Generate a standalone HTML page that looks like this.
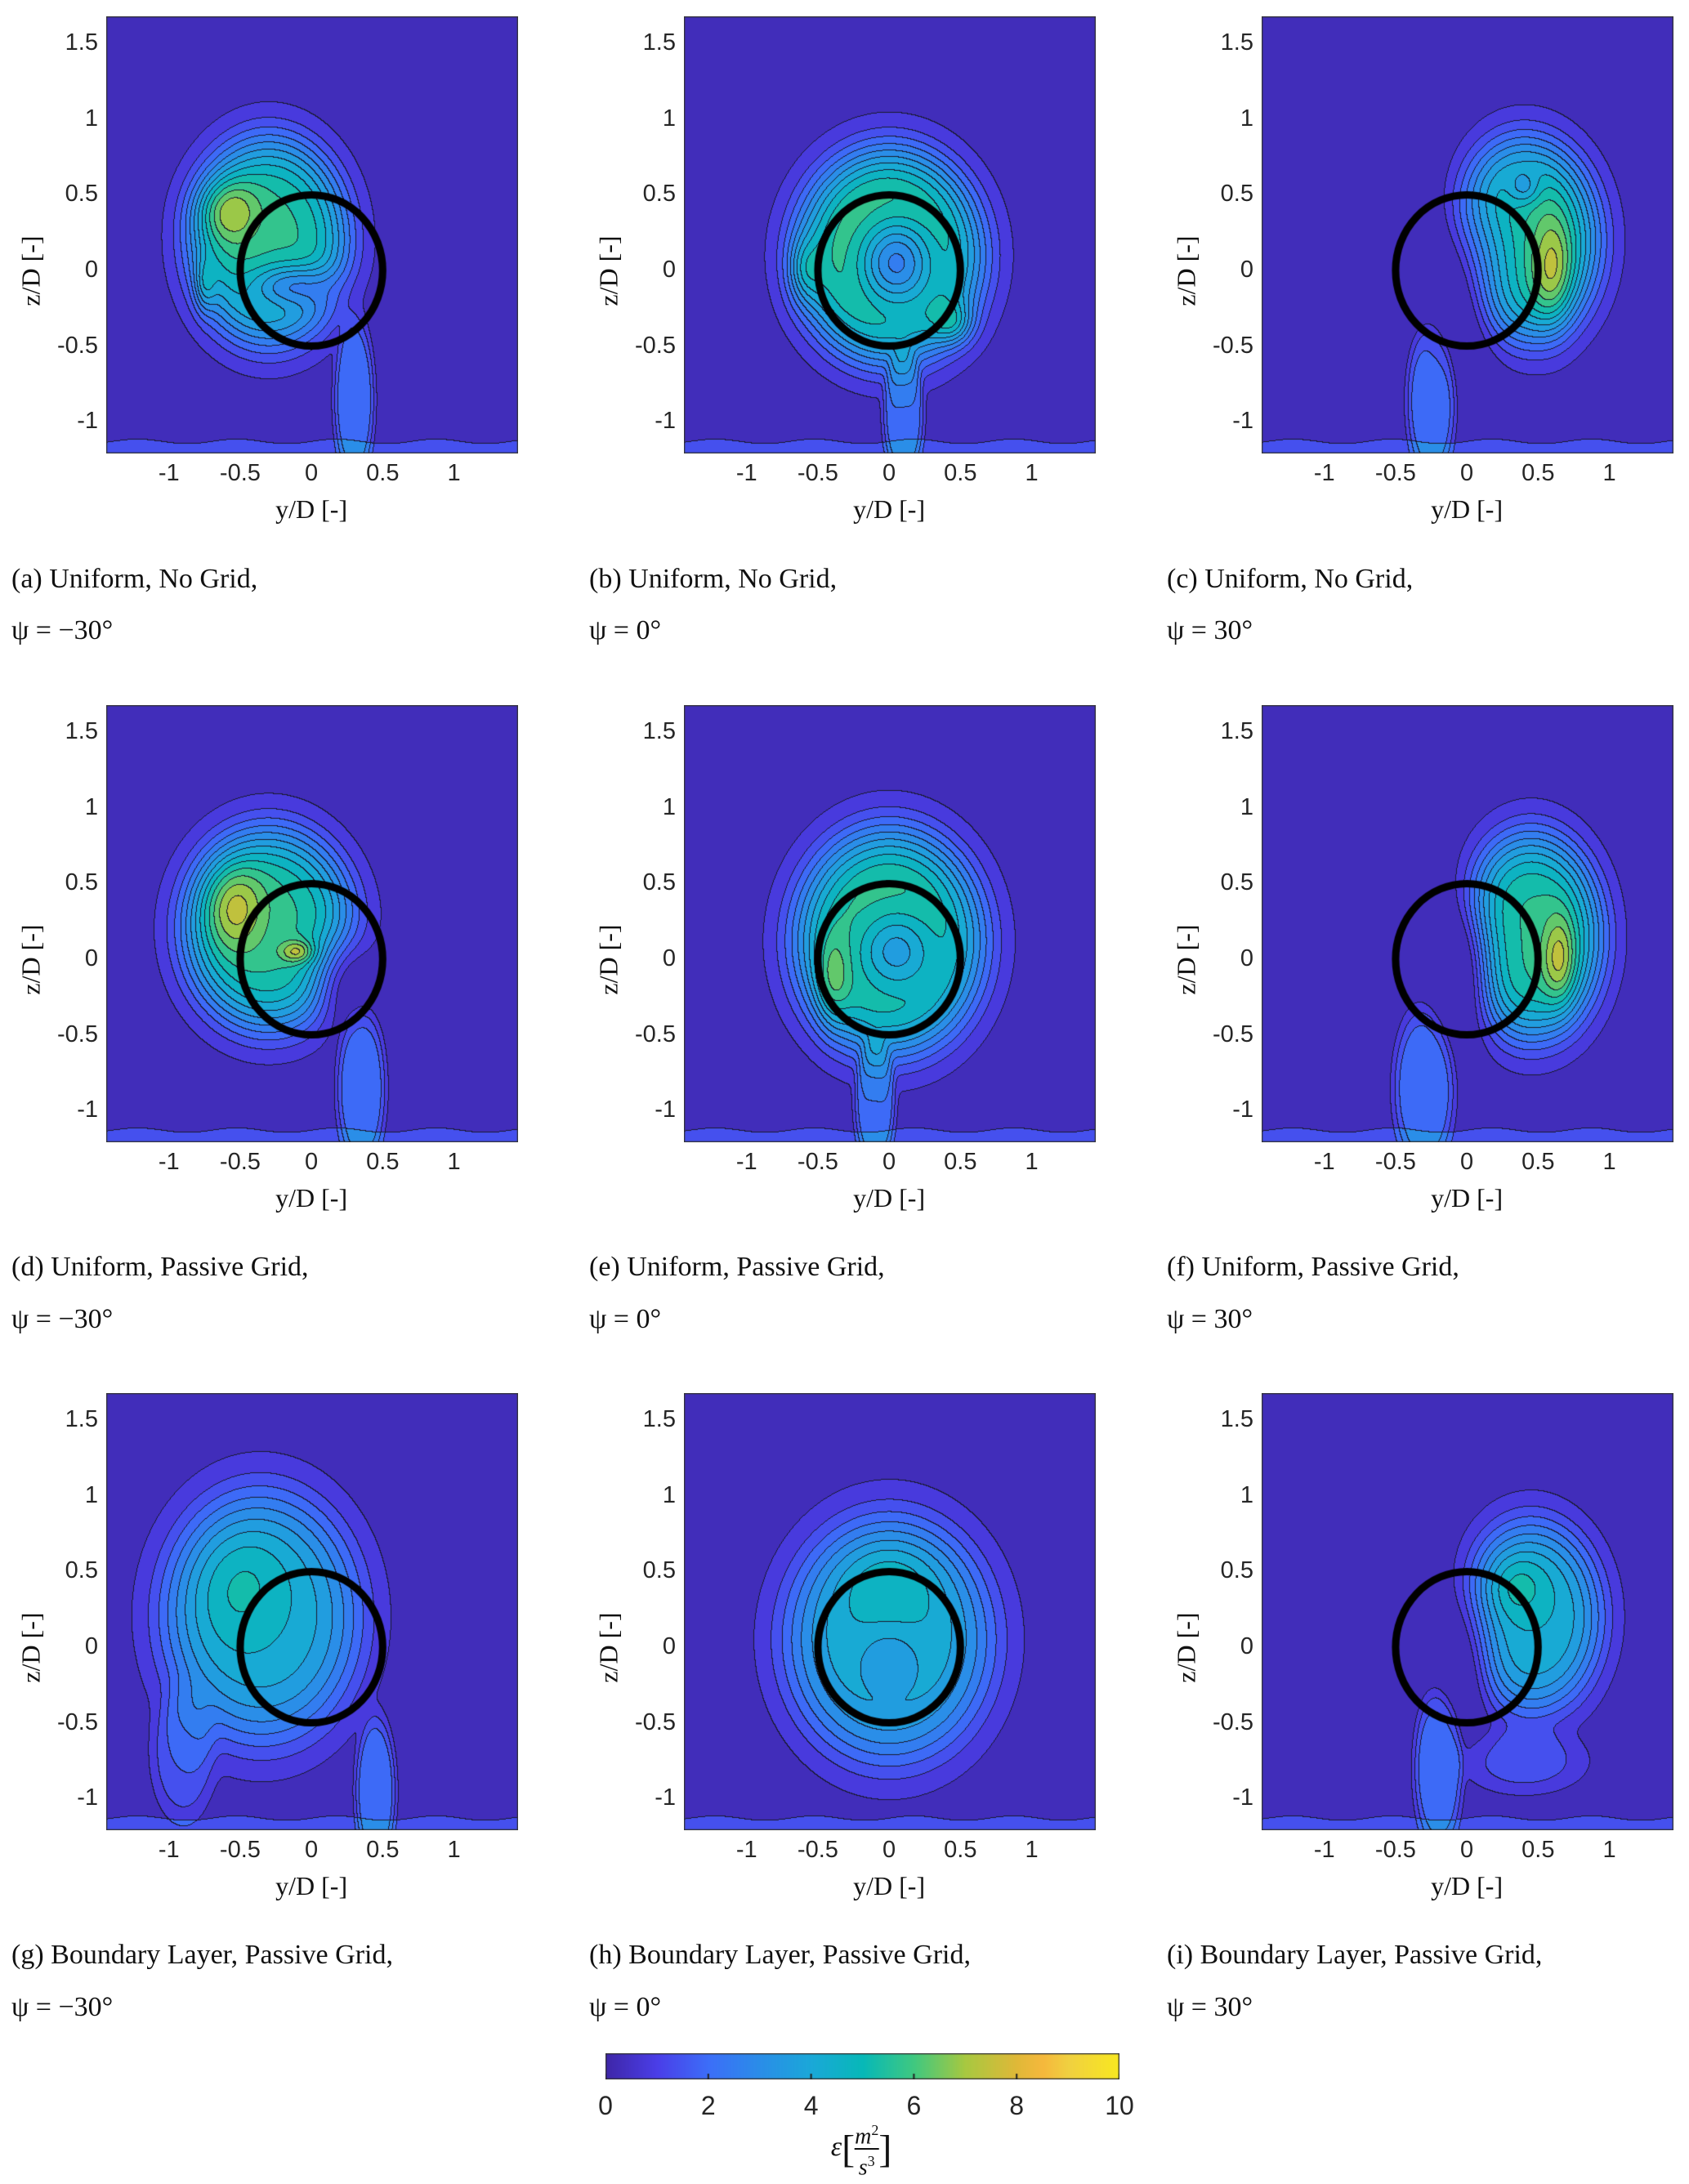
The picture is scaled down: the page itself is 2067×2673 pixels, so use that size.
<!DOCTYPE html>
<html><head><meta charset="utf-8">
<style>
html,body{margin:0;padding:0;background:#fff;}
body{width:2067px;height:2673px;position:relative;overflow:hidden;font-family:"Liberation Sans",sans-serif;}
.abs{position:absolute;white-space:nowrap;}
.tick{font-family:"Liberation Sans",sans-serif;color:#262626;}
.serif{font-family:"Liberation Serif",serif;color:#111;}
canvas{position:absolute;}
</style></head>
<body>
<script>
// ---- data ----
const panelIds = ['a','b','c','d','e','f','g','h','i'];
const captionLine1 = ['Uniform, No Grid,','Uniform, No Grid,','Uniform, No Grid,','Uniform, Passive Grid,','Uniform, Passive Grid,','Uniform, Passive Grid,','Boundary Layer, Passive Grid,','Boundary Layer, Passive Grid,','Boundary Layer, Passive Grid,'];
const psiValues = ['\u221230','0','30','\u221230','0','30','\u221230','0','30'];
const xTicks = [-1,-0.5,0,0.5,1];
const xTickLabels = ['-1','-0.5','0','0.5','1'];
const yTicks = [1.5,1,0.5,0,-0.5,-1];
const yTickLabels = ['1.5','1','0.5','0','-0.5','-1'];
const cbTicks = [0,2,4,6,8,10];
// blobs per panel: [y, z, sy, sz, amplitude, shapeExponent]
const blobsA = [[-0.3,0.2,0.4,0.49,5.3,2],[-0.6,0.4,0.15,0.15,2,1],[-0.15,-0.1,0.2,0.1,-2.5,1],[0.3,-0.85,0.1,0.38,1.8,3],[-0.75,-0.1,0.05,0.12,1.5,1]];
const blobsB = [[0,0.1,0.46,0.5,6.3,2],[0.05,0.05,0.2,0.22,-4,1],[0.45,-0.35,0.1,0.1,2,1],[-0.6,0,0.08,0.15,1.5,1],[0.1,-0.95,0.1,0.3,1.8,3]];
const blobsC = [[0.4,0.2,0.38,0.48,5.3,2],[0.0,0.0,0.2,0.35,-3,1],[0.6,0.0,0.1,0.25,2,1],[0.4,0.55,0.08,0.08,-1.5,1],[-0.25,-0.85,0.12,0.38,1.8,3]];
const blobsD = [[-0.3,0.2,0.43,0.48,5.3,2],[-0.55,0.35,0.15,0.2,2,1],[-0.1,0.05,0.08,0.05,2,1],[0.2,-0.1,0.15,0.2,-2,1],[0.35,-0.85,0.12,0.38,1.8,3]];
const blobsE = [[0,0.12,0.47,0.53,5.8,2],[0.05,0.05,0.2,0.2,-2.5,1],[-0.4,-0.15,0.08,0.2,1.5,1],[-0.1,-0.95,0.1,0.3,1.8,3]];
const blobsF = [[0.45,0.15,0.36,0.49,5.3,2],[0.0,0.0,0.15,0.3,-3,1],[0.65,0.0,0.08,0.2,2,1],[-0.3,-0.85,0.15,0.38,1.8,3]];
const blobsG = [[-0.35,0.2,0.5,0.6,3.8,2],[-0.5,0.4,0.25,0.3,1,1],[0.45,-0.95,0.1,0.35,1.8,3],[-0.9,-0.7,0.15,0.3,1.3,2]];
const blobsH = [[0,0.05,0.52,0.58,4,2],[0,0.45,0.25,0.2,0.8,1],[0,-0.1,0.15,0.15,-1,1]];
const blobsI = [[0.45,0.2,0.36,0.46,4,2],[0.35,0.4,0.15,0.15,1,1],[0,0,0.15,0.3,-2,1],[-0.2,-0.8,0.12,0.38,1.8,3],[0.4,-0.75,0.3,0.15,1,2]];
const panelBlobs = [blobsA,blobsB,blobsC,blobsD,blobsE,blobsF,blobsG,blobsH,blobsI];
const cmapStops = [[0,'#3e26a8'],[0.1,'#4a3ee8'],[0.2,'#3c6ef8'],[0.3,'#2a8de8'],[0.4,'#1aa8d8'],[0.5,'#07b8b8'],[0.6,'#40c880'],[0.7,'#a8c840'],[0.8,'#e0b838'],[0.85,'#f5b83c'],[0.9,'#f0d040'],[1,'#f8e820']];

// ---- layout (display coords scaled by S) ----
const S = 2067/1210;
const colX = [76,490,904], rowY = [12,505,998], PW = 295, PH = 313;
const X0=-1.44, X1=1.45, Y0=-1.21, Y1=1.68;
function hex(c){return [parseInt(c.substr(1,2),16),parseInt(c.substr(3,2),16),parseInt(c.substr(5,2),16)];}
function cmap(t){t=Math.max(0,Math.min(1,t));for(let k=1;k<cmapStops.length;k++){if(t<=cmapStops[k][0]){const a=cmapStops[k-1],b=cmapStops[k];const f=(t-a[0])/(b[0]-a[0]);const ca=hex(a[1]),cb=hex(b[1]);return ca.map((v,j)=>Math.round(v+(cb[j]-v)*f));}}return hex('#f8e820');}
function field(bl,y,z){let v=0.3;for(const b of bl){const q=(((y-b[0])/b[2])**2+((z-b[1])/b[3])**2)/2;v+=b[4]*Math.exp(-Math.pow(q,b[5]));}v=Math.max(v,0.3);if(z<-1.13+0.015*Math.sin(y*9))v+=1.1;return v;}
function div(cls,txt,x,y,fs,name){const d=document.createElement('div');d.className='abs '+cls;d.textContent=txt;d.style.left=x+'px';d.style.top=y+'px';d.style.fontSize=fs+'px';


document.body.appendChild(d);return d;}

panelIds.forEach((id,p)=>{
  const r=Math.floor(p/3),c=p%3;
  const L=Math.round(colX[c]*S),T=Math.round(rowY[r]*S),W=Math.round(PW*S),H=Math.round(PH*S);
  const cv=document.createElement('canvas');cv.width=W;cv.height=H;cv.style.left=L+'px';cv.style.top=T+'px';
  
  
  document.body.appendChild(cv);
  const ctx=cv.getContext('2d');const img=ctx.createImageData(W,H);const bl=panelBlobs[p];
  const lv=new Int16Array(W*H);const step=0.55;
  for(let j=0;j<H;j++)for(let i=0;i<W;i++){const y=X0+(X1-X0)*i/W,z=Y1-(Y1-Y0)*j/H;lv[j*W+i]=Math.floor(field(bl,y,z)/step);}
  for(let j=0;j<H;j++)for(let i=0;i<W;i++){const k=j*W+i,l=lv[k];let col=cmap((l+0.5)*step/10);
    if((i+1<W&&lv[k+1]!==l)||(j+1<H&&lv[k+W]!==l))col=[25,25,45];
    img.data[k*4]=col[0];img.data[k*4+1]=col[1];img.data[k*4+2]=col[2];img.data[k*4+3]=255;}
  ctx.putImageData(img,0,0);
  const px=v=>(v-X0)/(X1-X0)*W, py=v=>(Y1-v)/(Y1-Y0)*H;
  ctx.beginPath();ctx.ellipse(px(0),py(0),px(0.5)-px(0),py(0)-py(0.5),0,0,Math.PI*2);ctx.lineWidth=9;ctx.strokeStyle='#000';ctx.stroke();
  ctx.strokeStyle='#333';ctx.lineWidth=1.5;ctx.strokeRect(0.5,0.5,W-1,H-1);
  xTicks.forEach((t,k)=>{const d=div('tick',xTickLabels[k],L+px(t),T+H+8,29,'x-tick-label');d.style.transform='translateX(-50%)';});
  yTicks.forEach((t,k)=>{const d=div('tick',yTickLabels[k],L-10,T+py(t)-17,29,'y-tick-label');d.style.transform='translateX(-100%)';});
  const xt=div('serif','y/D [-]',L+px(0),T+H+50,32,'x-axis-title');xt.style.transform='translateX(-50%)';
  const yt=div('serif','z/D [-]',L-92,T+py(0)-18,32,'y-axis-title');yt.style.transform='translateX(-50%) rotate(-90deg)';yt.style.transformOrigin='50% 50%';
  div('serif','('+id+') '+captionLine1[p],Math.round((colX[c]-68)*S),Math.round((rowY[r]+392)*S),34,'caption-'+id);
  div('serif','\u03c8 = '+psiValues[p]+'\u00b0',Math.round((colX[c]-68)*S),Math.round((rowY[r]+429)*S),34,'caption-psi-'+id);
});
// colorbar
(function(){
  const L=Math.round(434*S),T=Math.round(1471*S),W=Math.round(368*S),H=Math.round(19*S);
  const cv=document.createElement('canvas');cv.width=W;cv.height=H;cv.style.left=L+'px';cv.style.top=T+'px';
  
  
  document.body.appendChild(cv);const ctx=cv.getContext('2d');
  for(let i=0;i<W;i++){const c=cmap(i/W);ctx.fillStyle='rgb('+c+')';ctx.fillRect(i,0,1,H);}
  ctx.strokeStyle='#333';ctx.lineWidth=1.5;ctx.strokeRect(0.5,0.5,W-1,H-1);
  cbTicks.forEach(t=>{const x=t/10*W;ctx.fillStyle='#222';ctx.fillRect(x-1,H-7,2,7);
    const d=div('tick',String(t),L+x,T+H+14,32,'colorbar-tick-label');d.style.transform='translateX(-50%)';});
  const lab=div('serif','',Math.round(617*S),Math.round(1518*S),34,'colorbar-label');
  lab.innerHTML='<i>\u03b5</i><span style="font-size:48px;vertical-align:middle">[</span><span style="display:inline-block;vertical-align:middle;text-align:center;font-size:28px;line-height:28px"><i>m</i><sup style="font-size:18px">2</sup><br><span style="border-top:2px solid #111;display:block"><i>s</i><sup style="font-size:18px">3</sup></span></span><span style="font-size:48px;vertical-align:middle">]</span>';
  lab.style.transform='translateX(-50%)';
})();
</script>
</body></html>
